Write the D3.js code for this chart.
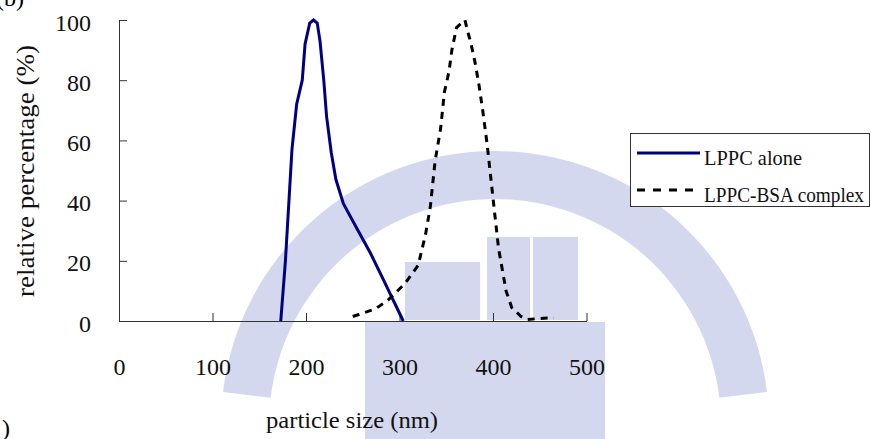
<!DOCTYPE html>
<html>
<head>
<meta charset="utf-8">
<script src="https://cdn.jsdelivr.net/npm/d3@7"></script>
<style>
  body { margin: 0; background: #fff; }
</style>
</head>
<body>
<div id="chart"></div>
<script>
// particle size distribution
var aloneSize = [173, 178, 185, 190, 196, 199, 204, 208, 212, 215, 219, 222, 227, 232, 240, 254, 269, 283, 304];
var alonePct  = [0, 20, 57, 72, 80, 92, 99, 100, 99, 93, 80, 68, 56, 47, 39, 31, 22.5, 13.6, 0];

var bsaSize = [250, 274, 288, 306, 320, 328, 333, 338, 344, 348, 353, 356, 361, 370, 373, 376, 381, 385, 389, 394, 401, 406, 410, 414, 420, 430, 437, 448, 458, 465];
var bsaPct  = [1.5, 4, 7, 12.5, 18.5, 29, 38, 53, 64, 76, 83, 90, 97.5, 100, 96, 92.8, 85.6, 78.4, 70, 58, 38, 24, 17, 10, 4.5, 1.5, 0.5, 0.8, 1, 1];

var xTicks = [0, 100, 200, 300, 400, 500];
var yTicks = [0, 20, 40, 60, 80, 100];
var seriesNames = ["LPPC alone", "LPPC-BSA complex"];

const width = 871, height = 439;
const serif = "Liberation Serif";

const svg = d3.select("#chart").append("svg")
  .attr("width", width)
  .attr("height", height)
  .attr("font-family", serif);

// faint watermark behind the plot (rough shape of the logo)
const wm = svg.append("g").attr("fill", "#aab2de").attr("opacity", 0.5);
wm.append("path")
  .attr("transform", "translate(495,425)")
  .attr("d", d3.arc()({innerRadius: 226, outerRadius: 274, startAngle: -1.45, endAngle: 1.45}));
wm.append("rect").attr("x", 405).attr("y", 262).attr("width", 75).attr("height", 58);
wm.append("rect").attr("x", 487).attr("y", 237).attr("width", 43).attr("height", 83);
wm.append("rect").attr("x", 533).attr("y", 237).attr("width", 45).attr("height", 83);
wm.append("rect").attr("x", 365).attr("y", 322).attr("width", 240).attr("height", 117);

var x = d3.scaleLinear().domain([0, 500]).range([119, 586.5]);
var y = d3.scaleLinear().domain([0, 100]).range([321, 20]);

// y axis
svg.append("g")
  .attr("transform", "translate(119,0)")
  .call(d3.axisLeft(y).tickValues(yTicks).tickSize(-8).tickSizeOuter(0).tickPadding(28))
  .attr("font-family", serif)
  .attr("font-size", 24)
  .call(g => g.selectAll("text").attr("dy", "0.42em").attr("fill", "#111"))
  .call(g => g.selectAll("line,path").attr("stroke", "#333"));

// x axis
svg.append("g")
  .attr("transform", "translate(0,321)")
  .call(d3.axisBottom(x).tickValues(xTicks).tickSize(-8).tickSizeOuter(0).tickPadding(37))
  .attr("font-family", serif)
  .attr("font-size", 24)
  .call(g => g.selectAll("text").attr("fill", "#111"))
  .call(g => g.selectAll("line,path").attr("stroke", "#333"));

svg.append("text")
  .attr("transform", "translate(34,171) rotate(-90)")
  .attr("text-anchor", "middle")
  .attr("font-size", 25)
  .attr("fill", "#111")
  .attr("textLength", 252)
  .attr("lengthAdjust", "spacingAndGlyphs")
  .text("relative percentage (%)");

svg.append("text")
  .attr("x", 352).attr("y", 428)
  .attr("text-anchor", "middle")
  .attr("font-size", 24)
  .attr("fill", "#111")
  .attr("textLength", 172)
  .attr("lengthAdjust", "spacingAndGlyphs")
  .text("particle size (nm)");

// bits of neighbouring panel labels
svg.append("text").attr("x", -4).attr("y", 6).attr("font-size", 24).text("(b)");
svg.append("text").attr("x", 2).attr("y", 436).attr("font-size", 24).text(")");

var line = d3.line().x(d => x(d[0])).y(d => y(d[1]));

svg.append("path")
  .datum(d3.zip(aloneSize, alonePct))
  .attr("fill", "none")
  .attr("stroke", "#000080")
  .attr("stroke-width", 3)
  .attr("d", line);

svg.append("path")
  .datum(d3.zip(bsaSize, bsaPct))
  .attr("fill", "none")
  .attr("stroke", "#000")
  .attr("stroke-width", 3)
  .attr("stroke-dasharray", "7,6")
  .attr("d", line);

// legend
const lg = svg.append("g");
lg.append("rect")
  .attr("x", 630.5).attr("y", 133.5).attr("width", 239).attr("height", 73)
  .attr("fill", "#fff").attr("stroke", "#333");
seriesNames.forEach(function(name, i) {
  var ly = 153 + i * 37;
  lg.append("line")
    .attr("x1", 637).attr("x2", 700).attr("y1", ly).attr("y2", ly)
    .attr("stroke", i === 0 ? "#000080" : "#000")
    .attr("stroke-width", 3)
    .attr("stroke-dasharray", i === 0 ? null : "8,8");
  lg.append("text")
    .attr("x", 704).attr("y", ly + 12)
    .attr("font-size", 22)
    .attr("fill", "#111")
    .attr("textLength", i === 0 ? 98 : 160)
    .attr("lengthAdjust", "spacingAndGlyphs")
    .text(name);
});
</script>
</body>
</html>
